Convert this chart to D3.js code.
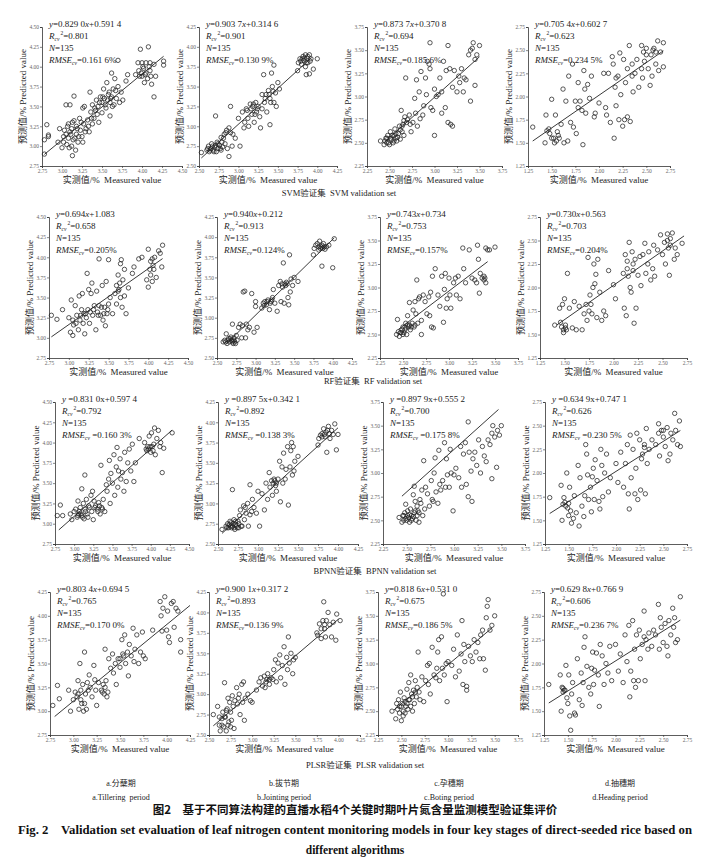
<!DOCTYPE html>
<html>
<head>
<meta charset="utf-8">
<script src="https://cdn.jsdelivr.net/npm/d3@7"></script>
<style>
  body { margin: 0; background: #fff; }
  svg { display: block; }
</style>
</head>
<body>
<svg id="fig" width="710" height="860"></svg>
<script>
// ---- data ----
const models = ["SVM", "RF", "BPNN", "PLSR"];
const stageCn = ["a.分蘖期", "b.拔节期", "c.孕穗期", "d.抽穗期"];
const stageEn = ["a.Tillering\u00a0 period", "b.Jointing period", "c.Boting period", "d.Heading period"];

const axisMin = [[2.75, 2.5, 2.25, 1.25], [2.75, 2.5, 2.25, 1.25], [2.75, 2.5, 2.25, 1.25], [2.75, 2.5, 2.25, 1.25]];
const axisMax = [[4.5, 4.25, 3.75, 2.75], [4.5, 4.25, 3.75, 2.75], [4.5, 4.25, 3.75, 2.75], [4.25, 4.25, 3.75, 2.75]];

const slopes = [["0.829 0", "0.903 7", "0.873 7", "0.705 4"], ["0.694", "0.940", "0.743", "0.730"],
  ["0.831 0", "0.897 5", "0.897 9", "0.634 9"], ["0.803 4", "0.900 1", "0.818 6", "0.629 8"]];
const intercepts = [["0.591 4", "0.314 6", "0.370 8", "0.602 7"], ["1.083", "0.212", "0.734", "0.563"],
  ["0.597 4", "0.342 1", "0.555 2", "0.747 1"], ["0.694 5", "0.317 2", "0.531 0", "0.766 9"]];
const r2 = [["0.801", "0.901", "0.694", "0.623"], ["0.658", "0.913", "0.753", "0.703"],
  ["0.792", "0.892", "0.700", "0.626"], ["0.765", "0.893", "0.675", "0.606"]];
const rmse = [["0.161 6%", "0.130 9%", "0.185 6%", "0.234 5%"], ["0.205%", "0.124%", "0.157%", "0.204%"],
  ["0.160 3%", "0.138 3%", "0.175 8%", "0.230 5%"], ["0.170 0%", "0.136 9%", "0.186 5%", "0.236 7%"]];
const fitFrom = [[2.78, 2.53, 2.45, 1.3], [2.78, 2.62, 2.45, 1.42], [2.8, 2.55, 2.45, 1.3], [2.8, 2.55, 2.42, 1.3]];
const fitTo = [[4.27, 3.93, 3.5, 2.68], [4.18, 4.02, 3.42, 2.72], [4.28, 4.0, 3.47, 2.68], [4.25, 4.0, 3.47, 2.68]];

// measured, predicted pairs (flat)
const svmA = [2.78,2.90, 2.78,3.08, 2.81,3.27, 2.83,3.14, 2.83,3.12, 2.95,3.05, 2.97,3.22, 3.00,2.98, 3.02,3.12, 3.03,3.20, 3.05,3.52, 3.06,3.02, 3.08,3.10, 3.08,3.28, 3.10,3.52, 3.10,3.18, 3.12,3.00, 3.12,3.22, 3.13,2.88, 3.14,3.08, 3.15,3.63, 3.15,3.32, 3.17,2.95, 3.18,3.15, 3.18,3.25, 3.20,3.05, 3.22,3.35, 3.23,3.20, 3.25,3.12, 3.26,3.48, 3.27,3.28, 3.28,3.50, 3.30,3.22, 3.32,3.33, 3.34,3.18, 3.35,3.68, 3.36,3.43, 3.38,3.28, 3.38,3.52, 3.40,3.35, 3.42,3.45, 3.43,3.58, 3.45,3.50, 3.46,3.30, 3.48,3.62, 3.50,3.55, 3.50,3.42, 3.52,3.72, 3.53,3.60, 3.55,3.48, 3.56,3.80, 3.58,3.65, 3.60,3.38, 3.60,3.55, 3.62,3.92, 3.62,3.62, 3.64,3.72, 3.65,3.52, 3.66,3.85, 3.68,3.60, 3.70,4.08, 3.70,3.75, 3.72,3.55, 3.74,3.68, 3.76,3.58, 3.80,3.82, 3.82,3.90, 3.92,3.90, 3.95,4.05, 3.96,3.95, 3.98,4.22, 4.00,3.88, 4.00,4.05, 4.02,3.98, 4.03,3.80, 4.05,4.05, 4.05,3.92, 4.07,3.85, 4.08,4.25, 4.10,4.05, 4.10,3.95, 4.12,3.78, 4.15,3.62, 4.15,4.03, 4.17,3.88, 4.27,4.07, 4.27,4.02,
  3.02,3.05, 3.05,3.15, 3.07,3.25, 3.09,2.98, 3.11,3.15, 3.13,3.30, 3.16,3.10, 3.19,3.22, 3.21,3.12, 3.24,3.30, 3.26,3.05, 3.29,3.18, 3.33,3.25, 3.37,3.35, 3.41,3.48, 3.44,3.40, 3.47,3.55, 3.51,3.62, 3.54,3.52, 3.57,3.58, 3.59,3.68, 3.61,3.60, 3.63,3.50, 3.67,3.70, 3.97,3.88, 3.99,3.92, 4.01,4.00, 4.04,3.90, 4.09,4.00, 4.11,3.88];
const svmB = [2.53,2.67, 2.60,2.70, 2.62,2.75, 2.63,2.68, 2.65,2.72, 2.66,2.78, 2.68,2.70, 2.70,2.74, 2.71,3.13, 2.72,2.68, 2.73,2.80, 2.74,2.72, 2.76,2.76, 2.78,2.70, 2.78,2.86, 2.80,2.74, 2.82,2.90, 2.83,2.78, 2.85,2.95, 2.86,2.72, 2.88,2.62, 2.88,2.98, 2.90,3.25, 2.90,2.92, 2.92,2.75, 2.93,2.90, 2.96,2.85, 3.00,3.10, 3.02,2.75, 3.05,3.18, 3.07,2.98, 3.08,3.05, 3.10,3.22, 3.12,3.10, 3.13,3.00, 3.15,3.28, 3.17,3.15, 3.18,3.25, 3.20,3.05, 3.22,3.30, 3.23,3.18, 3.25,3.25, 3.27,3.12, 3.28,2.98, 3.30,3.40, 3.30,3.22, 3.32,3.65, 3.33,3.30, 3.35,3.40, 3.36,3.18, 3.38,3.45, 3.40,3.02, 3.40,3.35, 3.42,3.67, 3.43,3.50, 3.45,3.77, 3.45,3.30, 3.47,3.42, 3.48,3.25, 3.50,3.55, 3.52,3.47, 3.75,3.70, 3.76,3.80, 3.78,3.85, 3.80,3.78, 3.82,3.88, 3.83,3.83, 3.85,3.75, 3.85,3.90, 3.86,3.65, 3.87,3.86, 3.88,3.80, 3.90,3.90, 3.90,3.66, 3.92,3.85, 3.95,3.72, 4.00,3.85,
  2.61,2.72, 2.64,2.70, 2.67,2.75, 2.69,2.68, 2.71,2.76, 2.74,2.78, 2.77,2.72, 2.79,2.80, 2.81,2.85, 2.84,2.92, 3.11,3.20, 3.16,3.22, 3.19,3.28, 3.21,3.15, 3.24,3.22, 3.34,3.35, 3.39,3.40, 3.41,3.30, 3.44,3.44, 3.79,3.82, 3.81,3.85, 3.84,3.86, 3.86,3.80, 3.88,3.88, 3.91,3.82];
const svmC = [2.40,2.52, 2.44,2.48, 2.46,2.55, 2.47,2.50, 2.48,2.58, 2.50,2.48, 2.51,2.62, 2.52,2.53, 2.54,2.50, 2.55,2.58, 2.56,2.65, 2.57,2.55, 2.58,2.52, 2.60,2.60, 2.61,2.68, 2.62,2.54, 2.63,2.85, 2.64,2.62, 2.65,2.70, 2.66,2.58, 2.67,2.78, 2.68,3.20, 2.70,2.75, 2.72,2.80, 2.74,2.62, 2.76,2.72, 2.78,2.98, 2.79,2.82, 2.80,3.18, 2.81,2.68, 2.83,3.05, 2.84,2.76, 2.85,3.27, 2.87,2.80, 2.88,2.90, 2.90,3.20, 2.91,3.02, 2.92,3.38, 2.94,3.35, 2.95,3.58, 2.95,3.30, 2.96,2.88, 2.98,2.85, 3.00,2.58, 3.00,3.08, 3.02,3.00, 3.04,3.02, 3.06,3.20, 3.08,2.82, 3.08,3.05, 3.10,3.38, 3.12,2.88, 3.13,3.28, 3.15,2.72, 3.15,3.55, 3.17,3.30, 3.18,2.70, 3.20,2.68, 3.20,3.10, 3.22,3.28, 3.25,3.05, 3.27,3.22, 3.28,3.15, 3.30,3.30, 3.32,3.05, 3.33,3.20, 3.35,3.18, 3.38,3.45, 3.40,2.95, 3.40,3.50, 3.42,3.52, 3.43,3.58, 3.45,3.12, 3.45,3.40, 3.47,3.45, 3.50,3.55,
  2.45,2.52, 2.47,2.55, 2.49,2.50, 2.51,2.55, 2.53,2.58, 2.55,2.52, 2.57,2.60, 2.59,2.56, 2.62,2.64, 2.64,2.68, 2.66,2.74, 2.69,2.72, 2.73,2.70];
const svmD = [1.30,1.67, 1.43,1.50, 1.44,1.80, 1.45,1.63, 1.47,1.65, 1.48,1.60, 1.50,1.97, 1.52,1.55, 1.53,1.50, 1.54,1.80, 1.55,1.52, 1.57,1.58, 1.58,1.55, 1.60,1.70, 1.62,2.08, 1.63,1.50, 1.65,1.95, 1.67,1.52, 1.68,2.22, 1.70,1.72, 1.72,2.35, 1.73,1.67, 1.75,1.95, 1.76,1.60, 1.78,2.15, 1.78,1.88, 1.80,1.95, 1.82,1.85, 1.83,1.48, 1.84,2.28, 1.85,2.08, 1.86,1.82, 1.88,2.13, 1.90,1.98, 1.92,2.22, 1.95,1.78, 1.96,1.82, 2.00,1.93, 2.05,2.25, 2.07,1.88, 2.08,1.80, 2.10,2.25, 2.12,1.72, 2.14,2.43, 2.15,2.35, 2.16,1.55, 2.17,2.10, 2.18,1.90, 2.20,2.22, 2.21,1.75, 2.22,2.47, 2.23,2.02, 2.25,1.68, 2.26,2.40, 2.27,1.75, 2.28,2.15, 2.30,1.78, 2.30,2.30, 2.32,2.55, 2.33,1.73, 2.35,2.35, 2.36,2.05, 2.38,2.25, 2.40,2.40, 2.42,2.10, 2.45,2.55, 2.46,2.20, 2.47,2.48, 2.48,2.38, 2.50,2.52, 2.52,2.30, 2.54,2.12, 2.55,2.45, 2.56,2.22, 2.58,2.52, 2.60,2.35, 2.62,2.60, 2.63,2.28, 2.65,2.48, 2.68,2.58, 2.68,2.32,
  1.50,1.55, 1.56,1.62, 2.18,2.20, 2.35,2.22, 2.50,2.45, 2.57,2.50, 2.45,2.30, 2.60,2.48];

const rfA = [2.78,3.28, 2.85,3.23, 2.92,3.35, 3.00,3.25, 3.02,3.07, 3.03,3.47, 3.05,3.03, 3.06,3.16, 3.08,3.40, 3.10,3.28, 3.12,3.10, 3.13,3.52, 3.14,3.22, 3.16,3.35, 3.17,3.55, 3.18,3.18, 3.20,3.05, 3.21,3.30, 3.22,3.25, 3.23,3.80, 3.24,3.35, 3.25,3.60, 3.26,3.18, 3.28,3.55, 3.29,3.68, 3.30,3.28, 3.32,3.40, 3.34,3.10, 3.35,3.58, 3.36,3.32, 3.38,3.40, 3.38,3.98, 3.40,3.28, 3.42,3.65, 3.43,3.22, 3.45,3.38, 3.46,3.15, 3.47,3.70, 3.48,3.30, 3.50,3.42, 3.50,3.97, 3.52,3.50, 3.55,3.30, 3.58,3.55, 3.60,3.42, 3.60,3.65, 3.62,3.78, 3.63,3.60, 3.65,3.92, 3.65,3.50, 3.66,3.97, 3.67,3.38, 3.68,3.72, 3.70,3.85, 3.70,3.52, 3.72,3.30, 3.75,3.62, 3.80,3.80, 3.82,3.88, 3.88,3.98, 3.92,4.00, 3.98,3.72, 4.00,4.10, 4.00,3.63, 4.02,3.85, 4.03,3.78, 4.05,3.98, 4.05,3.70, 4.07,3.85, 4.08,4.00, 4.10,3.75, 4.13,4.08, 4.15,4.05, 4.17,3.88, 4.18,4.15,
  3.05,3.22, 3.09,3.18, 3.15,3.28, 3.19,3.30, 3.27,3.32, 3.31,3.35, 3.37,3.28, 3.41,3.38, 3.44,3.30, 3.49,3.35, 3.62,3.58, 3.64,3.68, 4.03,3.95, 4.06,3.90];
const rfB = [2.58,2.70, 2.60,2.72, 2.62,2.80, 2.63,2.68, 2.65,2.74, 2.66,2.70, 2.68,2.76, 2.69,2.72, 2.70,2.92, 2.71,2.68, 2.72,2.75, 2.73,2.70, 2.75,2.78, 2.76,2.72, 2.78,2.88, 2.80,2.92, 2.82,2.75, 2.83,2.90, 2.84,3.32, 2.86,3.33, 2.87,2.75, 2.88,2.92, 2.90,2.85, 2.92,2.88, 2.95,3.30, 2.98,2.82, 3.00,3.20, 3.00,3.14, 3.02,2.88, 3.08,3.12, 3.10,3.18, 3.12,3.20, 3.14,3.16, 3.16,3.22, 3.18,3.10, 3.20,3.20, 3.22,3.25, 3.23,3.35, 3.25,3.18, 3.28,3.08, 3.30,3.40, 3.32,3.45, 3.33,3.20, 3.35,3.38, 3.36,3.68, 3.37,3.18, 3.38,3.42, 3.40,3.44, 3.42,3.25, 3.43,3.16, 3.44,3.78, 3.45,3.32, 3.46,3.48, 3.48,3.40, 3.50,3.50, 3.55,3.45, 3.75,3.78, 3.76,3.86, 3.78,3.90, 3.80,3.92, 3.82,3.84, 3.83,3.95, 3.85,3.88, 3.86,3.64, 3.87,3.86, 3.88,3.92, 3.90,3.85, 3.92,3.88, 3.95,3.90, 4.00,3.62, 4.02,3.98,
  2.61,2.70, 2.64,2.72, 2.67,2.74, 2.70,2.70, 2.72,2.72, 2.74,2.68, 3.11,3.15, 3.15,3.20, 3.19,3.18, 3.21,3.22, 3.34,3.42, 3.39,3.40, 3.41,3.42, 3.82,3.88, 3.84,3.86, 3.86,3.90, 3.89,3.88];
const rfC = [2.43,2.50, 2.44,2.66, 2.45,2.53, 2.46,2.48, 2.48,2.52, 2.50,2.50, 2.50,2.58, 2.52,2.55, 2.53,2.62, 2.54,2.50, 2.55,2.70, 2.56,2.58, 2.57,2.84, 2.58,2.55, 2.60,2.62, 2.61,2.76, 2.62,2.58, 2.63,2.85, 2.64,2.72, 2.65,3.08, 2.66,2.62, 2.67,2.88, 2.68,2.90, 2.70,2.50, 2.70,2.65, 2.72,2.92, 2.74,2.85, 2.76,2.72, 2.78,2.90, 2.79,2.70, 2.80,2.95, 2.81,2.58, 2.82,3.12, 2.83,2.57, 2.85,3.20, 2.88,2.92, 2.90,2.80, 2.92,3.12, 2.94,2.63, 2.95,2.98, 2.96,3.15, 2.97,2.78, 2.98,2.88, 3.00,3.10, 3.01,2.92, 3.02,2.78, 3.05,3.05, 3.07,3.10, 3.08,2.92, 3.10,3.12, 3.12,2.88, 3.15,3.42, 3.16,3.20, 3.18,3.05, 3.22,3.40, 3.25,3.10, 3.28,3.08, 3.30,3.05, 3.31,3.45, 3.32,3.30, 3.33,2.94, 3.34,3.15, 3.36,3.10, 3.38,3.08, 3.40,3.05, 3.40,3.42, 3.42,3.40, 3.44,3.40, 3.50,3.43,
  2.47,2.52, 2.49,2.55, 2.51,2.52, 2.53,2.57, 2.55,2.60, 2.57,2.60, 2.59,2.58, 2.63,2.60, 3.38,3.12, 3.39,3.10];
const rfD = [1.40,1.60, 1.45,1.78, 1.46,1.63, 1.47,1.58, 1.48,1.82, 1.49,1.52, 1.50,1.88, 1.51,1.57, 1.52,1.55, 1.53,2.15, 1.55,1.78, 1.58,1.57, 1.60,1.85, 1.62,1.55, 1.65,1.80, 1.68,1.55, 1.70,1.72, 1.72,1.82, 1.73,1.65, 1.74,2.32, 1.75,1.75, 1.76,1.92, 1.77,1.82, 1.78,1.72, 1.79,2.00, 1.80,2.25, 1.81,2.04, 1.82,2.14, 1.83,1.68, 1.84,2.30, 1.86,1.95, 1.88,1.65, 1.90,1.75, 1.92,1.70, 1.95,2.18, 2.00,2.03, 2.02,1.88, 2.10,2.15, 2.11,1.78, 2.12,2.35, 2.13,1.70, 2.14,2.28, 2.15,2.12, 2.16,2.48, 2.17,2.00, 2.18,1.95, 2.19,2.38, 2.20,2.18, 2.21,1.62, 2.22,2.30, 2.23,1.78, 2.25,2.13, 2.27,2.33, 2.28,2.02, 2.30,2.35, 2.32,2.47, 2.33,2.15, 2.35,2.25, 2.36,2.38, 2.38,2.08, 2.40,2.20, 2.41,2.45, 2.42,2.12, 2.45,2.40, 2.48,2.56, 2.50,2.35, 2.52,2.48, 2.53,2.25, 2.55,2.57, 2.56,2.42, 2.57,2.13, 2.58,2.52, 2.60,2.58, 2.62,2.30, 2.63,2.42, 2.65,2.35, 2.70,2.47,
  1.49,1.55, 1.51,1.60, 2.14,2.20, 2.20,2.25, 2.55,2.50, 2.58,2.45];

const bpA = [2.78,3.10, 2.82,3.23, 2.85,3.10, 2.95,3.12, 2.97,3.05, 3.00,3.15, 3.02,3.18, 3.04,3.08, 3.05,3.28, 3.06,3.12, 3.08,3.20, 3.10,3.43, 3.10,3.10, 3.12,3.25, 3.13,3.06, 3.14,3.60, 3.15,3.15, 3.16,3.30, 3.18,3.08, 3.20,3.20, 3.22,3.35, 3.23,3.15, 3.24,3.40, 3.25,3.05, 3.26,3.28, 3.28,3.22, 3.30,3.18, 3.32,3.26, 3.34,3.12, 3.35,3.72, 3.36,3.20, 3.38,3.30, 3.40,3.15, 3.42,3.48, 3.43,3.40, 3.45,3.55, 3.46,3.78, 3.47,3.25, 3.48,3.62, 3.50,3.50, 3.52,3.85, 3.53,3.35, 3.55,3.70, 3.56,3.94, 3.57,3.45, 3.58,3.65, 3.60,3.80, 3.61,3.55, 3.63,3.63, 3.65,3.40, 3.66,3.88, 3.68,3.52, 3.70,3.75, 3.72,3.92, 3.74,3.65, 3.76,3.98, 3.78,3.52, 3.80,3.75, 3.85,4.05, 3.92,4.00, 3.95,3.90, 3.96,3.95, 3.98,4.08, 4.00,3.88, 4.01,4.12, 4.02,3.95, 4.04,3.98, 4.05,4.18, 4.06,3.85, 4.08,4.05, 4.10,4.15, 4.12,3.95, 4.13,4.00, 4.15,3.63, 4.17,3.93, 4.28,4.12,
  3.05,3.10, 3.07,3.15, 3.09,3.12, 3.11,3.08, 3.14,3.18, 3.17,3.12, 3.19,3.22, 3.27,3.20, 3.31,3.15, 3.33,3.22, 3.37,3.18, 3.97,3.92, 3.99,3.95, 4.03,3.90, 3.94,3.92];
const bpB = [2.55,2.68, 2.60,2.72, 2.62,2.75, 2.63,2.70, 2.65,2.78, 2.66,2.72, 2.67,2.70, 2.68,3.17, 2.69,2.75, 2.70,2.80, 2.71,2.68, 2.72,2.74, 2.73,2.72, 2.75,2.78, 2.76,2.70, 2.77,2.85, 2.78,2.92, 2.80,2.72, 2.82,2.97, 2.83,2.80, 2.84,2.95, 2.85,2.88, 2.87,3.00, 2.88,2.72, 2.90,3.23, 2.90,2.86, 2.92,2.90, 2.93,3.05, 2.95,2.95, 2.98,2.88, 3.00,3.15, 3.02,2.72, 3.05,3.12, 3.08,2.92, 3.10,3.25, 3.12,3.05, 3.14,3.38, 3.15,3.20, 3.17,3.28, 3.18,3.10, 3.20,3.30, 3.22,3.22, 3.23,3.15, 3.25,3.30, 3.27,3.52, 3.28,3.02, 3.30,3.45, 3.31,3.25, 3.32,3.62, 3.34,3.30, 3.35,3.42, 3.37,3.70, 3.38,2.98, 3.40,3.45, 3.41,3.65, 3.42,3.75, 3.43,3.35, 3.44,3.70, 3.45,3.40, 3.46,3.52, 3.50,3.58, 3.75,3.72, 3.76,3.80, 3.78,3.84, 3.80,3.86, 3.82,3.92, 3.84,3.82, 3.85,3.88, 3.86,3.63, 3.88,3.95, 3.90,3.80, 3.92,3.90, 3.94,3.85, 3.96,3.98, 3.98,3.66, 4.00,3.85,
  2.61,2.70, 2.64,2.74, 2.66,2.76, 2.68,2.72, 2.70,2.70, 2.72,2.78, 2.74,2.70, 2.76,2.75, 2.79,2.72, 3.19,3.25, 3.21,3.28, 3.23,3.25, 3.80,3.82, 3.83,3.85, 3.87,3.90, 3.89,3.86];
const bpC = [2.42,2.53, 2.45,2.48, 2.46,2.55, 2.47,2.50, 2.48,2.58, 2.49,2.67, 2.50,2.50, 2.51,2.60, 2.52,2.53, 2.53,2.48, 2.54,2.62, 2.55,2.55, 2.56,2.52, 2.57,2.77, 2.58,2.86, 2.58,2.58, 2.59,2.70, 2.60,2.50, 2.61,2.65, 2.62,2.60, 2.63,2.48, 2.64,2.72, 2.65,2.68, 2.66,2.82, 2.67,2.55, 2.68,3.13, 2.69,2.62, 2.70,2.85, 2.72,2.78, 2.74,2.65, 2.76,2.92, 2.77,2.72, 2.78,2.70, 2.79,3.00, 2.80,3.16, 2.81,2.80, 2.83,2.68, 2.84,3.24, 2.85,2.88, 2.86,2.82, 2.88,2.92, 2.90,3.32, 2.91,2.85, 2.92,3.15, 2.93,2.98, 2.95,2.85, 2.96,3.25, 2.97,3.00, 2.99,2.60, 3.00,2.98, 3.02,3.05, 3.05,2.95, 3.07,3.28, 3.08,2.85, 3.10,3.20, 3.12,3.32, 3.13,2.88, 3.15,3.54, 3.15,2.75, 3.16,3.22, 3.18,3.02, 3.19,2.70, 3.20,3.15, 3.22,3.22, 3.24,3.08, 3.26,3.35, 3.28,3.00, 3.30,3.28, 3.32,3.18, 3.34,3.12, 3.36,3.35, 3.38,3.30, 3.40,2.94, 3.40,3.42, 3.41,3.50, 3.43,3.38, 3.45,3.06, 3.46,3.45, 3.48,3.40, 3.50,3.50,
  2.47,2.55, 2.49,2.52, 2.51,2.55, 2.53,2.56, 2.55,2.50, 2.57,2.54, 2.59,2.60, 2.61,2.55, 2.63,2.58];
const bpD = [1.30,1.74, 1.42,1.87, 1.43,1.50, 1.44,1.67, 1.45,1.74, 1.46,1.69, 1.48,2.00, 1.49,1.63, 1.50,1.55, 1.51,1.85, 1.52,1.60, 1.53,1.47, 1.55,1.52, 1.56,1.76, 1.58,1.58, 1.60,2.08, 1.61,1.44, 1.62,1.95, 1.64,1.65, 1.66,1.54, 1.67,1.76, 1.68,2.30, 1.69,2.20, 1.70,1.98, 1.71,1.72, 1.73,1.85, 1.74,1.59, 1.75,1.96, 1.76,2.05, 1.77,1.72, 1.78,2.14, 1.80,1.92, 1.82,1.70, 1.83,1.62, 1.84,2.25, 1.85,2.08, 1.86,1.75, 1.88,2.00, 1.90,2.20, 1.92,1.80, 1.94,1.95, 2.00,2.10, 2.02,1.90, 2.05,2.22, 2.08,1.85, 2.10,2.10, 2.12,2.30, 2.13,1.78, 2.14,1.62, 2.15,2.40, 2.16,1.95, 2.18,2.25, 2.20,1.78, 2.21,2.05, 2.22,2.42, 2.23,1.72, 2.25,2.35, 2.26,1.82, 2.27,2.15, 2.28,2.20, 2.30,2.30, 2.31,1.78, 2.32,2.47, 2.33,2.10, 2.35,2.25, 2.38,2.35, 2.42,2.30, 2.45,2.52, 2.46,2.18, 2.48,2.45, 2.50,2.38, 2.52,2.28, 2.54,2.48, 2.55,2.13, 2.57,2.20, 2.58,2.42, 2.60,2.35, 2.62,2.63, 2.63,2.45, 2.65,2.30, 2.67,2.55, 2.68,2.28,
  1.47,1.65, 1.50,1.68, 2.30,2.27, 2.45,2.42, 2.50,2.45];

const plsA = [2.78,3.06, 2.83,3.27, 2.85,3.13, 2.95,3.22, 2.97,3.00, 3.00,3.12, 3.02,3.20, 3.04,3.15, 3.05,3.32, 3.06,3.02, 3.07,3.50, 3.08,3.22, 3.09,3.08, 3.10,3.28, 3.11,3.00, 3.12,3.62, 3.13,3.18, 3.14,3.02, 3.15,3.30, 3.17,3.38, 3.18,3.25, 3.20,3.15, 3.22,3.48, 3.23,3.33, 3.25,3.06, 3.27,3.30, 3.30,3.22, 3.32,3.28, 3.33,3.18, 3.34,3.65, 3.35,3.32, 3.36,3.15, 3.38,3.55, 3.40,3.45, 3.42,3.60, 3.43,3.40, 3.45,3.50, 3.46,3.28, 3.48,3.55, 3.50,3.46, 3.52,3.75, 3.53,3.60, 3.55,3.80, 3.56,3.50, 3.58,3.62, 3.59,3.37, 3.60,3.70, 3.62,3.58, 3.64,3.87, 3.65,3.52, 3.66,3.65, 3.68,3.80, 3.70,3.50, 3.72,3.62, 3.74,3.83, 3.75,3.58, 3.77,3.55, 3.85,3.85, 3.93,4.15, 3.94,4.00, 3.95,3.84, 3.96,4.08, 3.98,4.20, 4.00,3.85, 4.01,4.05, 4.02,3.78, 4.03,3.72, 4.05,4.13, 4.07,4.15, 4.08,3.88, 4.10,4.08, 4.12,4.05, 4.15,3.62, 4.15,3.75,
  3.05,3.18, 3.08,3.12, 3.12,3.08, 3.16,3.22, 3.24,3.22, 3.31,3.20, 3.34,3.25, 3.37,3.20, 3.50,3.55, 3.54,3.58];
const plsB = [2.55,2.75, 2.60,2.85, 2.62,2.62, 2.63,2.55, 2.65,2.70, 2.66,2.78, 2.67,2.60, 2.68,3.14, 2.69,2.72, 2.70,2.55, 2.71,2.82, 2.72,2.95, 2.73,2.66, 2.74,2.90, 2.75,2.78, 2.76,2.68, 2.77,2.98, 2.78,2.85, 2.79,2.58, 2.80,2.92, 2.82,3.08, 2.83,2.88, 2.84,2.95, 2.85,3.00, 2.86,2.75, 2.88,3.12, 2.89,2.90, 2.90,3.15, 2.91,2.68, 2.92,2.95, 2.95,3.00, 2.98,2.92, 3.00,2.90, 3.05,3.05, 3.08,3.15, 3.10,3.20, 3.12,3.10, 3.14,3.22, 3.15,3.08, 3.17,3.18, 3.18,3.25, 3.20,3.12, 3.22,3.20, 3.24,3.18, 3.25,3.30, 3.27,3.42, 3.28,3.15, 3.30,3.38, 3.32,3.48, 3.33,3.20, 3.35,3.35, 3.37,3.58, 3.38,3.12, 3.40,3.45, 3.41,3.30, 3.42,3.70, 3.43,3.38, 3.45,3.50, 3.47,3.25, 3.48,3.42, 3.50,3.45, 3.75,3.75, 3.76,3.72, 3.78,3.86, 3.80,3.68, 3.82,3.90, 3.83,4.13, 3.84,3.80, 3.85,3.70, 3.86,3.90, 3.88,4.00, 3.90,3.85, 3.92,3.70, 3.94,3.88, 3.97,3.66, 3.98,3.98, 4.02,3.90,
  2.62,2.72, 2.65,2.62, 2.68,2.72, 2.70,2.80, 2.72,2.62, 2.75,2.60, 3.16,3.15, 3.20,3.18, 3.80,3.80, 3.84,3.85];
const plsC = [2.40,2.50, 2.44,2.42, 2.45,2.58, 2.46,2.52, 2.47,2.62, 2.48,2.55, 2.49,2.70, 2.50,2.40, 2.51,2.58, 2.52,2.50, 2.53,2.64, 2.54,2.48, 2.55,2.55, 2.56,2.73, 2.57,2.52, 2.58,2.80, 2.59,2.62, 2.60,2.88, 2.61,2.68, 2.62,2.50, 2.63,2.72, 2.64,2.58, 2.65,2.82, 2.66,2.65, 2.67,2.75, 2.68,3.12, 2.69,2.70, 2.70,2.62, 2.72,2.86, 2.74,2.60, 2.76,2.82, 2.78,2.98, 2.79,2.78, 2.80,3.00, 2.81,2.68, 2.83,3.17, 2.85,2.88, 2.87,2.85, 2.88,2.95, 2.89,3.12, 2.90,3.25, 2.91,2.82, 2.93,3.28, 2.94,2.95, 2.95,3.73, 2.96,2.88, 2.98,3.00, 2.99,2.60, 3.00,3.02, 3.04,2.98, 3.06,3.15, 3.08,2.86, 3.10,3.30, 3.12,2.92, 3.14,3.10, 3.15,3.45, 3.16,2.78, 3.17,3.20, 3.18,3.02, 3.20,2.72, 3.20,2.76, 3.22,3.18, 3.24,3.08, 3.26,3.02, 3.28,3.25, 3.30,3.12, 3.32,3.22, 3.34,3.05, 3.35,3.30, 3.37,3.35, 3.38,3.05, 3.40,2.93, 3.41,3.48, 3.42,3.60, 3.43,3.67, 3.45,3.35, 3.47,3.40, 3.50,3.50,
  2.48,2.48, 2.50,2.55, 2.52,2.45, 2.54,2.60, 2.56,2.58, 2.58,2.62, 2.60,2.55, 2.62,2.65, 2.65,2.70];
const plsD = [1.30,1.78, 1.42,1.88, 1.43,1.50, 1.44,1.75, 1.45,1.70, 1.46,1.72, 1.48,1.98, 1.49,1.64, 1.50,1.58, 1.51,1.88, 1.52,1.45, 1.53,1.30, 1.54,1.68, 1.55,1.80, 1.57,1.48, 1.58,1.46, 1.60,2.05, 1.62,1.62, 1.64,1.90, 1.65,1.56, 1.66,1.80, 1.67,2.17, 1.68,2.28, 1.70,1.97, 1.72,1.75, 1.74,1.68, 1.75,1.95, 1.76,2.12, 1.77,1.78, 1.78,1.93, 1.80,2.11, 1.82,1.88, 1.83,1.55, 1.84,2.20, 1.86,2.08, 1.88,1.78, 1.90,2.00, 1.92,1.90, 1.94,2.18, 1.96,1.82, 2.00,2.20, 2.03,1.92, 2.05,2.10, 2.08,1.80, 2.10,2.30, 2.12,2.02, 2.14,2.40, 2.15,1.65, 2.16,1.92, 2.18,2.45, 2.19,1.82, 2.20,2.15, 2.21,1.75, 2.22,2.30, 2.24,1.82, 2.25,2.35, 2.26,2.05, 2.28,2.20, 2.30,2.55, 2.31,1.82, 2.32,2.25, 2.34,2.15, 2.35,2.32, 2.38,2.18, 2.42,2.30, 2.45,2.62, 2.46,2.15, 2.47,2.48, 2.48,2.38, 2.50,2.22, 2.52,2.42, 2.54,2.18, 2.55,2.08, 2.56,2.45, 2.58,2.30, 2.60,2.58, 2.61,2.38, 2.62,2.48, 2.63,2.22, 2.65,2.25, 2.68,2.70,
  1.45,1.74, 1.47,1.72, 2.30,2.28, 2.40,2.35];

const panelPoints = [[svmA, svmB, svmC, svmD], [rfA, rfB, rfC, rfD], [bpA, bpB, bpC, bpD], [plsA, plsB, plsC, plsD]];

// ---- layout ----
const rowTop = [27, 217, 402, 592];
const rowBottom = [166, 358, 544, 735];
const colLeft = [[42, 199, 367, 528], [49, 217, 380, 540], [55, 218, 383, 545], [50, 209, 378, 544]];
const colRight = [[182, 337, 502, 670], [188, 352, 518, 687], [189, 358, 525, 687], [190, 360, 518, 687]];
const groupCapX = [339, 373, 375, 365];
const groupCapY = [196, 384, 574, 768];

const serif = "'Liberation Serif','Times New Roman','Noto Sans CJK SC',serif";
const ink = "#222";

const svg = d3.select("#fig");
const toPairs = flat => d3.range(0, flat.length, 2).map(i => ({ x: flat[i], y: flat[i + 1] }));
const num = s => parseFloat(s.replace(/ /g, ""));

function drawPanel(r, c) {
  const lo = axisMin[r][c], hi = axisMax[r][c];
  const x = d3.scaleLinear().domain([lo, hi]).range([colLeft[r][c], colRight[r][c]]);
  const y = d3.scaleLinear().domain([lo, hi]).range([rowBottom[r], rowTop[r]]);
  const ticks = d3.range(lo, hi + 0.001, 0.25);
  const g = svg.append("g").attr("class", "panel");

  const xAxis = g.append("g")
    .attr("transform", "translate(0," + rowBottom[r] + ")")
    .call(d3.axisBottom(x).tickValues(ticks).tickSize(2).tickFormat(d3.format(".2f")));
  const yAxis = g.append("g")
    .attr("transform", "translate(" + colLeft[r][c] + ",0)")
    .call(d3.axisLeft(y).tickValues(ticks).tickSize(2).tickFormat(d3.format(".2f")));
  [xAxis, yAxis].forEach(a => {
    a.select(".domain").attr("stroke", "#333").attr("stroke-width", 0.8);
    a.selectAll(".tick line").attr("stroke", "#333").attr("stroke-width", 0.6);
    a.selectAll(".tick text")
      .attr("fill", "#666")
      .style("font-family", serif)
      .style("font-size", "5.5px");
  });
  xAxis.selectAll(".tick text").attr("dy", "0.45em");
  yAxis.selectAll(".tick text").attr("x", -3);

  // points
  g.selectAll("circle")
    .data(toPairs(panelPoints[r][c]))
    .enter()
    .append("circle")
    .attr("cx", d => x(d.x))
    .attr("cy", d => y(d.y))
    .attr("r", 2.2)
    .attr("fill", "none")
    .attr("stroke", ink)
    .attr("stroke-width", 0.75);

  // fitted line
  const k = num(slopes[r][c]), b = num(intercepts[r][c]);
  g.append("line")
    .attr("x1", x(fitFrom[r][c]))
    .attr("y1", y(k * fitFrom[r][c] + b))
    .attr("x2", x(fitTo[r][c]))
    .attr("y2", y(k * fitTo[r][c] + b))
    .attr("stroke", ink)
    .attr("stroke-width", 0.9);

  // axis titles
  const midX = (colLeft[r][c] + colRight[r][c]) / 2;
  g.append("text")
    .attr("x", midX)
    .attr("y", rowBottom[r] + 17)
    .attr("text-anchor", "middle")
    .style("font-family", serif)
    .style("font-size", "9px")
    .attr("fill", ink)
    .text("实测值/%\u00a0 Measured value");
  const midY = (rowTop[r] + rowBottom[r]) / 2;
  g.append("text")
    .attr("transform", "translate(" + (colLeft[r][c] - 16) + "," + midY + ") rotate(-90)")
    .attr("text-anchor", "middle")
    .style("font-family", serif)
    .style("font-size", "9px")
    .attr("fill", ink)
    .text("预测值/% Predicted value");

  // statistics block
  const tx = colLeft[r][c] + 7;
  const ty = rowTop[r];
  const italicX = r !== 2;
  const t = g.append("g")
    .style("font-family", serif)
    .style("font-size", "9px")
    .attr("fill", ink);

  const l1 = t.append("text").attr("x", tx).attr("y", ty);
  l1.append("tspan").style("font-style", "italic").text("y");
  l1.append("tspan").text((r === 2 ? " =" : "=") + slopes[r][c]);
  l1.append("tspan").style("font-style", italicX ? "italic" : "normal").text("x");
  l1.append("tspan").text("+" + intercepts[r][c]);

  const l2 = t.append("text").attr("x", tx).attr("y", ty + 12);
  l2.append("tspan").style("font-style", "italic").text("R");
  l2.append("tspan").style("font-style", "italic").style("font-size", "5.5px").attr("dy", 2).text("cv");
  l2.append("tspan").style("font-size", "5.5px").attr("dy", -6).attr("dx", 1).text("2");
  l2.append("tspan").attr("dy", 4).text("=" + r2[r][c]);

  const l3 = t.append("text").attr("x", tx).attr("y", ty + 24);
  l3.append("tspan").style("font-style", "italic").text("N");
  l3.append("tspan").text("=135");

  const l4 = t.append("text").attr("x", tx).attr("y", ty + 36);
  l4.append("tspan").style("font-style", "italic").text("RMSE");
  l4.append("tspan").style("font-style", "italic").style("font-size", "5.5px").attr("dy", 2).text("cv");
  l4.append("tspan").attr("dy", -2).text((r === 2 ? " =" : "=") + rmse[r][c]);
}

for (let r = 0; r < 4; r++) {
  for (let c = 0; c < 4; c++) drawPanel(r, c);
  svg.append("text")
    .attr("x", groupCapX[r])
    .attr("y", groupCapY[r])
    .attr("text-anchor", "middle")
    .style("font-family", serif)
    .style("font-size", "8.5px")
    .attr("fill", ink)
    .text(models[r] + "验证集\u00a0 " + models[r] + " validation set");
}

// stage labels
const stageX = [121, 284, 449, 620];
svg.selectAll("text.stageCn")
  .data(stageCn)
  .enter()
  .append("text")
  .attr("class", "stageCn")
  .attr("x", (d, i) => stageX[i])
  .attr("y", 786)
  .attr("text-anchor", "middle")
  .style("font-family", serif)
  .style("font-size", "8px")
  .attr("fill", ink)
  .text(d => d);
svg.selectAll("text.stageEn")
  .data(stageEn)
  .enter()
  .append("text")
  .attr("class", "stageEn")
  .attr("x", (d, i) => stageX[i])
  .attr("y", 800)
  .attr("text-anchor", "middle")
  .style("font-family", serif)
  .style("font-size", "8px")
  .attr("fill", ink)
  .text(d => d);

// figure caption
svg.append("text")
  .attr("x", 355)
  .attr("y", 814)
  .attr("text-anchor", "middle")
  .style("font-family", "'Noto Sans CJK SC',sans-serif")
  .style("font-weight", "bold")
  .style("font-size", "11.5px")
  .attr("fill", "#111")
  .text("图2\u3000基于不同算法构建的直播水稻4个关键时期叶片氮含量监测模型验证集评价");
svg.append("text")
  .attr("x", 18)
  .attr("y", 834)
  .attr("textLength", 674)
  .attr("lengthAdjust", "spacingAndGlyphs")
  .style("font-family", serif)
  .style("font-weight", "bold")
  .style("font-size", "11.5px")
  .attr("fill", "#111")
  .text("Fig. 2\u00a0\u00a0\u00a0 Validation set evaluation of leaf nitrogen content monitoring models in four key stages of direct-seeded rice based on");
svg.append("text")
  .attr("x", 355)
  .attr("y", 854)
  .attr("text-anchor", "middle")
  .style("font-family", serif)
  .style("font-weight", "bold")
  .style("font-size", "11.5px")
  .attr("fill", "#111")
  .text("different algorithms");
</script>
</body>
</html>
